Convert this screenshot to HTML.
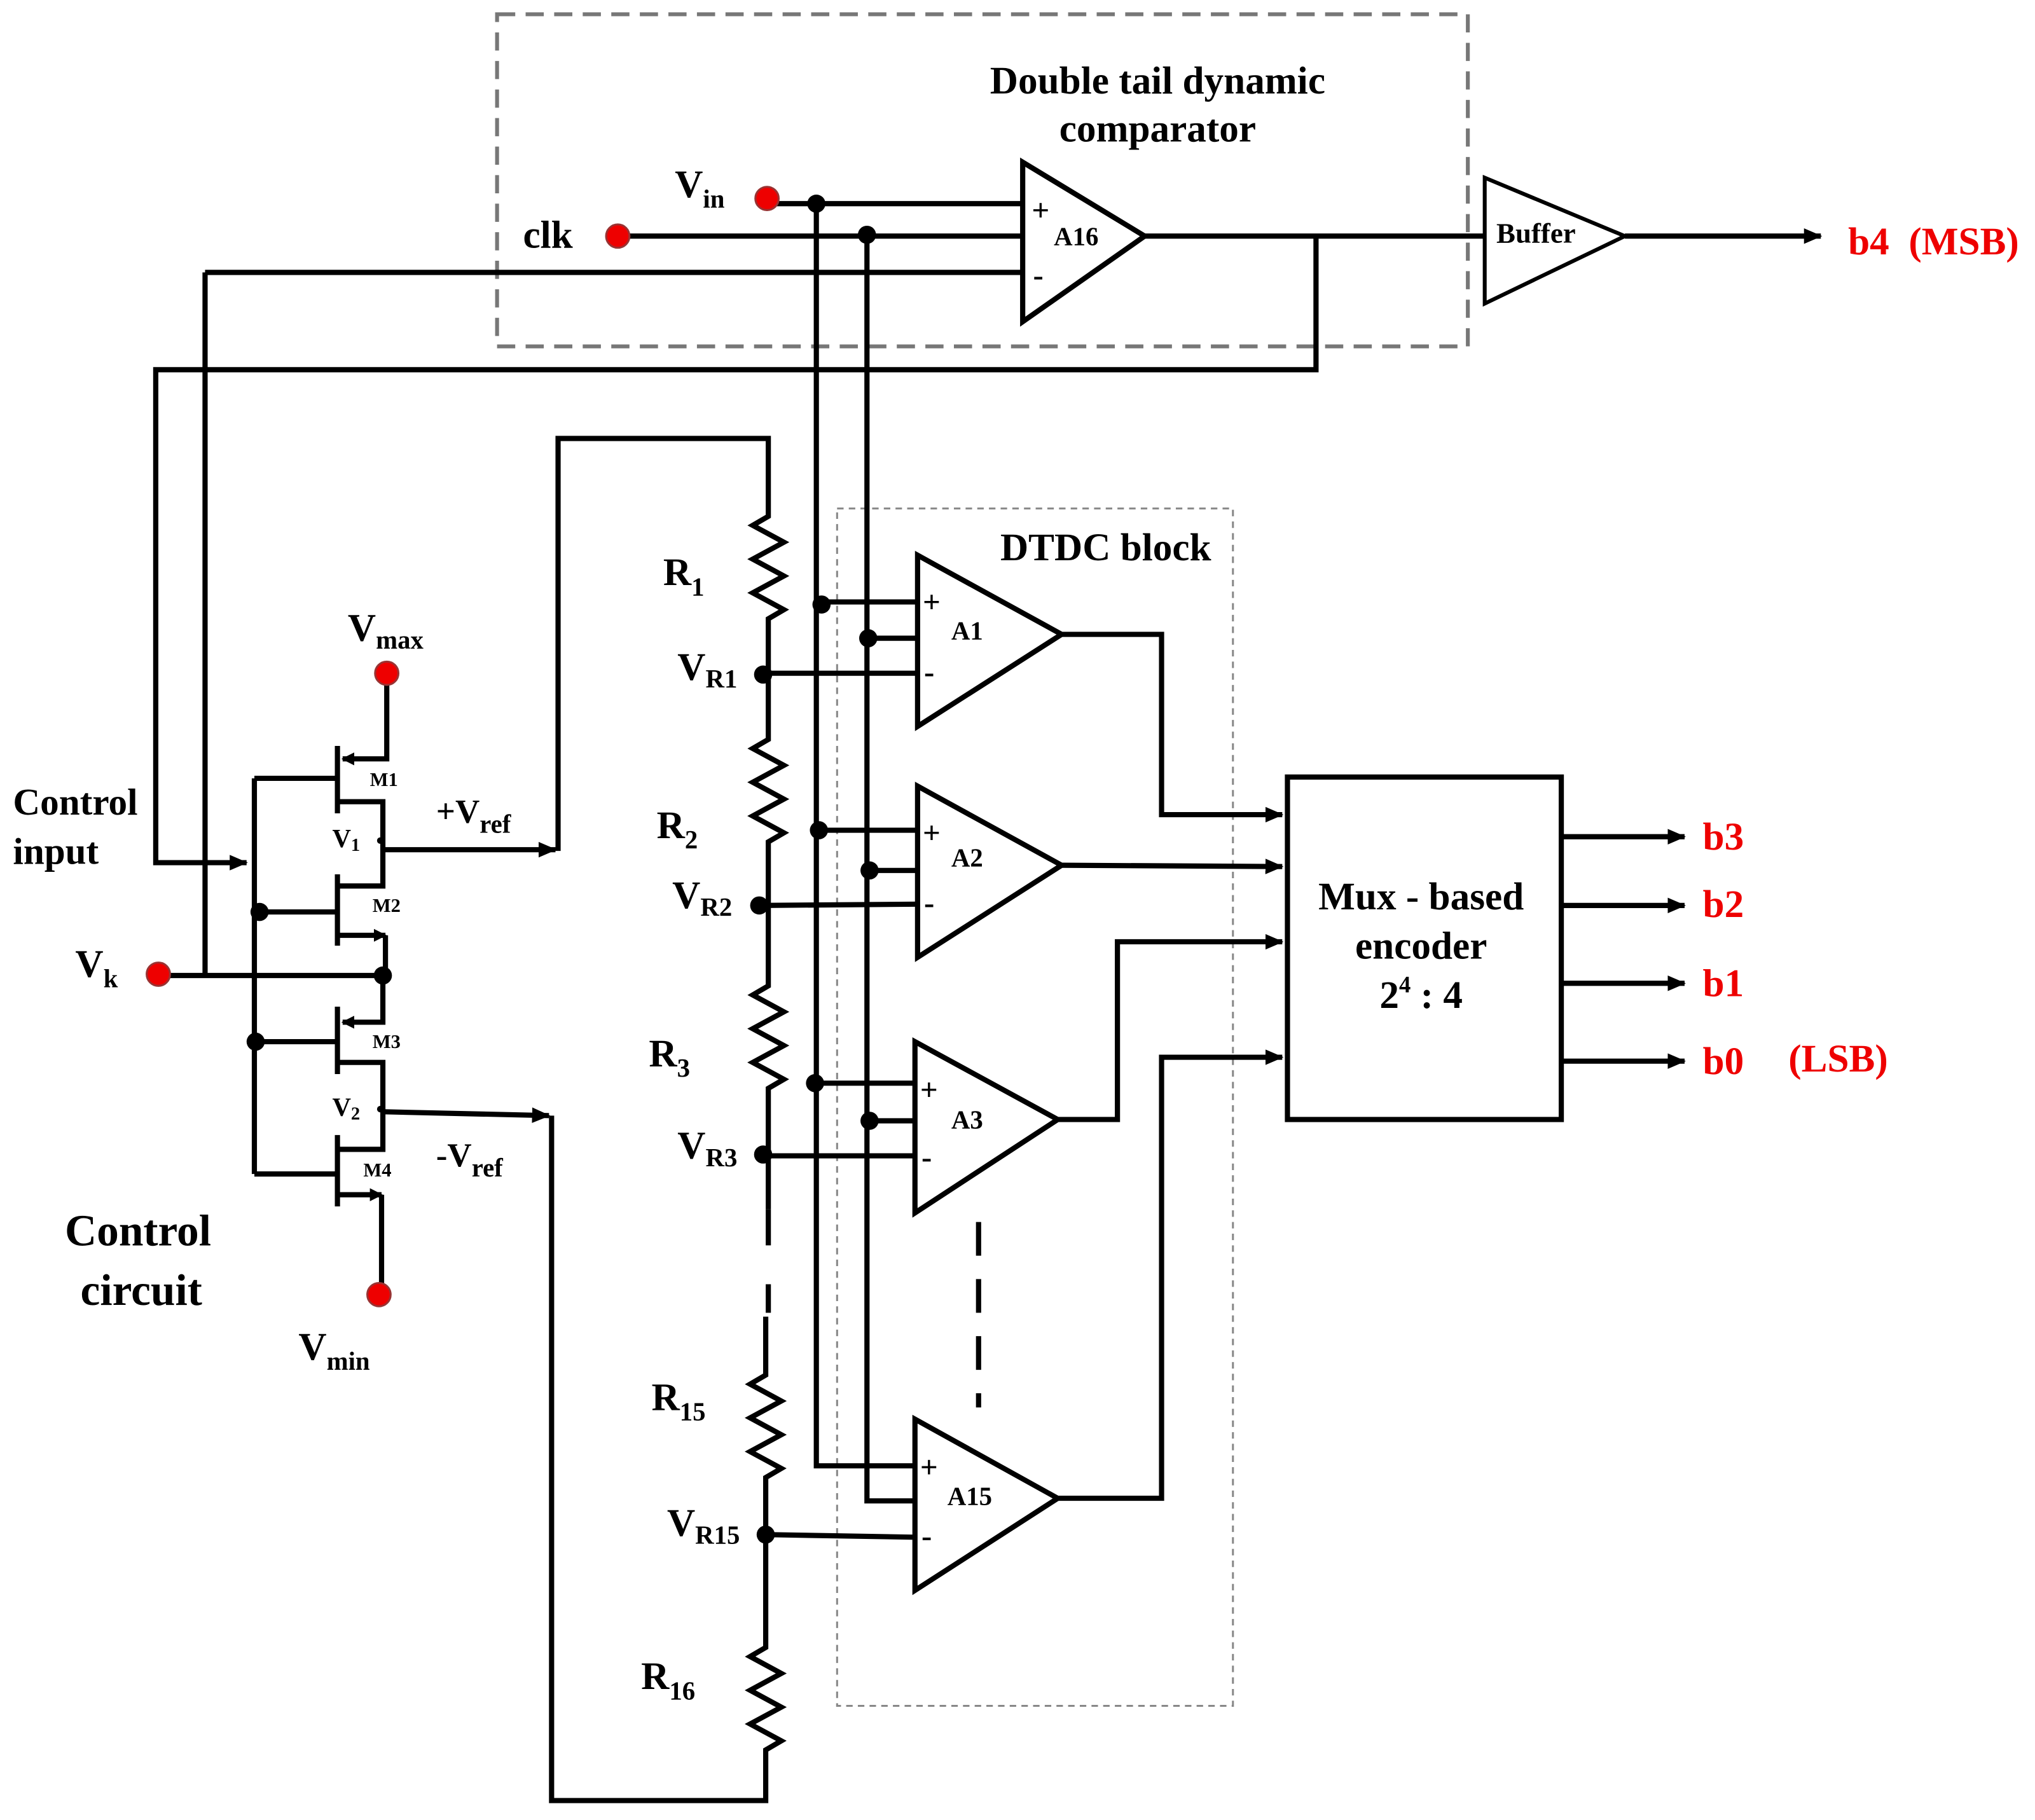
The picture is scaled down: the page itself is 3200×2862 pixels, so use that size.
<!DOCTYPE html>
<html><head><meta charset="utf-8"><style>
html,body{margin:0;padding:0;background:#fff}
svg{display:block}
text{font-family:"Liberation Serif",serif;font-weight:bold;fill:#000}
.r{fill:#e00}
</style></head><body>
<svg width="3200" height="2862" viewBox="0 0 1568 1403" preserveAspectRatio="none" xmlns="http://www.w3.org/2000/svg">
<defs>
<marker id="ar" markerWidth="10" markerHeight="10" refX="9" refY="5" orient="auto" markerUnits="userSpaceOnUse">
<path d="M0,0 L10,5 L0,10 Z" fill="#000"/></marker>
<marker id="ar2" markerWidth="14" markerHeight="12" refX="13" refY="6" orient="auto" markerUnits="userSpaceOnUse">
<path d="M0,0 L14,6 L0,12 Z" fill="#000"/></marker>
</defs>
<g fill="none" stroke="#000" stroke-width="4">
<rect x="383" y="11" width="748" height="256" stroke="#777" stroke-width="3" stroke-dasharray="14,8"/>
<rect x="645" y="392" width="305" height="923" stroke="#888" stroke-width="1.5" stroke-dasharray="5,4"/>
<path d="M591,157 H787"/>
<path d="M476,182 H787"/>
<path d="M158,210 H787"/>
<path d="M158,210 V752"/>
<path d="M788,125 V248 L882,182 Z"/>
<path d="M882,182 H1143"/>
<path d="M1014,182 V285 H120 V665 H190" marker-end="url(#ar2)"/>
<path d="M1144,137 V234 L1252,182 Z" stroke-width="3"/>
<path d="M1252,182 H1403" marker-end="url(#ar2)"/>
<path d="M629,157 V1130 H705"/>
<path d="M668,181 V1157 H705"/>
<path d="M294,655 H428" marker-end="url(#ar2)"/>
<path d="M430,656 V338 H592 V398 l-12,7 l24,13 l-24,13 l24,13 l-24,13 l24,13 l-12,7 V570 l-12,7 l24,13 l-24,13 l24,13 l-24,13 l24,13 l-12,7 V760 l-12,7 l24,13 l-24,13 l24,13 l-24,13 l24,13 l-12,7 V932"/>
<path d="M592,932 V1012" stroke-dasharray="28,30"/>
<path d="M590,1015 V1060 l-12,7 l24,13 l-24,13 l24,13 l-24,13 l24,13 l-12,7 V1270 l-12,7 l24,13 l-24,13 l24,13 l-24,13 l24,13 l-12,7 V1388 H425 V860"/>
<path d="M294,857 L423,860" marker-end="url(#ar2)"/>
<path d="M707,428 V560 L818,489 Z"/>
<path d="M633,464 H707 M669,492 H707 M588,519 H707"/>
<path d="M818,489 H895 V628 H988" marker-end="url(#ar2)"/>
<path d="M707,606 V738 L818,667 Z"/>
<path d="M631,640 H707 M670,671 H707 M585,698 L707,697"/>
<path d="M818,667 L988,668" marker-end="url(#ar2)"/>
<path d="M705,803 V935 L815,863 Z"/>
<path d="M628,835 H705 M670,864 H705 M588,891 H705"/>
<path d="M815,863 H861 V726 H988" marker-end="url(#ar2)"/>
<path d="M754,942 V1085" stroke-dasharray="26,18"/>
<path d="M705,1094 V1226 L815,1155 Z"/>
<path d="M590,1183 L705,1185"/>
<path d="M815,1155 H895 V815 H988" marker-end="url(#ar2)"/>
<rect x="992" y="599" width="211" height="264"/>
<path d="M1203,645 H1298" marker-end="url(#ar2)"/>
<path d="M1203,698 H1298" marker-end="url(#ar2)"/>
<path d="M1203,758 H1298" marker-end="url(#ar2)"/>
<path d="M1203,818 H1298" marker-end="url(#ar2)"/>
<path d="M298,519 V585 H264" marker-end="url(#ar)"/>
<path d="M260,575 V627 M196,600 H258 M260,618 H295 V683 H260"/>
<path d="M260,674 V729 M200,703 H258 M260,721 H297" marker-end="url(#ar)"/>
<path d="M297,721 V752 M122,752 H295"/>
<path d="M295,752 V788 H264" marker-end="url(#ar)"/>
<path d="M260,776 V828 M197,803 H258 M260,819 H295 V886 H260"/>
<path d="M260,875 V930 M196,905 H258 M260,921 H294" marker-end="url(#ar)"/>
<path d="M294,921 V998"/>
<path d="M196,600 V905"/>
</g>
<g fill="#000">
<circle cx="629" cy="157" r="7"/><circle cx="668" cy="181" r="7"/>
<circle cx="633" cy="466" r="7"/><circle cx="669" cy="492" r="7"/><circle cx="588" cy="520" r="7"/>
<circle cx="631" cy="640" r="7"/><circle cx="670" cy="671" r="7"/><circle cx="585" cy="698" r="7"/>
<circle cx="628" cy="835" r="7"/><circle cx="670" cy="864" r="7"/><circle cx="588" cy="890" r="7"/>
<circle cx="590" cy="1183" r="7"/>
<circle cx="200" cy="703" r="7"/><circle cx="197" cy="803" r="7"/><circle cx="295" cy="752" r="7"/>
<circle cx="293" cy="648" r="2.5"/><circle cx="293" cy="855" r="2.5"/>
</g>
<g fill="#e00" stroke="#933" stroke-width="1.5">
<circle cx="591" cy="153" r="9"/><circle cx="476" cy="182" r="9"/>
<circle cx="298" cy="519" r="9"/><circle cx="122" cy="751" r="9"/><circle cx="292" cy="998" r="9"/>
</g>
<g font-size="30">
<text x="892" y="72" text-anchor="middle">Double tail dynamic</text>
<text x="892" y="109" text-anchor="middle">comparator</text>
<text x="520" y="152">V<tspan font-size="20" dy="8">in</tspan></text>
<text x="403" y="191">clk</text>
<text x="852" y="432" text-anchor="middle">DTDC block</text>
<text x="1095" y="701" text-anchor="middle">Mux - based</text>
<text x="1095" y="739" text-anchor="middle">encoder</text>
<text x="1095" y="777" text-anchor="middle">2<tspan font-size="18" dy="-12">4</tspan><tspan dy="12"> : 4</tspan></text>
<text x="10" y="628" font-size="29">Control</text>
<text x="10" y="666" font-size="29">input</text>
<text x="50" y="960" font-size="34">Control</text>
<text x="62" y="1006" font-size="34">circuit</text>
<text x="268" y="494">V<tspan font-size="20" dy="6">max</tspan></text>
<text x="230" y="1048">V<tspan font-size="20" dy="8">min</tspan></text>
<text x="58" y="753">V<tspan font-size="20" dy="8">k</tspan></text>
<text x="336" y="634" font-size="26">+V<tspan font-size="20" dy="8">ref</tspan></text>
<text x="336" y="899" font-size="26">-V<tspan font-size="20" dy="8">ref</tspan></text>
<text x="511" y="451">R<tspan font-size="20" dy="8">1</tspan></text>
<text x="506" y="646">R<tspan font-size="20" dy="8">2</tspan></text>
<text x="500" y="822">R<tspan font-size="20" dy="8">3</tspan></text>
<text x="502" y="1087">R<tspan font-size="20" dy="8">15</tspan></text>
<text x="494" y="1302">R<tspan font-size="20" dy="8">16</tspan></text>
<text x="522" y="524">V<tspan font-size="20" dy="6">R1</tspan></text>
<text x="518" y="700">V<tspan font-size="20" dy="6">R2</tspan></text>
<text x="522" y="893">V<tspan font-size="20" dy="6">R3</tspan></text>
<text x="514" y="1184">V<tspan font-size="20" dy="6">R15</tspan></text>
<text class="r" x="1424" y="196">b4&#160;&#160;(MSB)</text>
<text class="r" x="1312" y="655">b3</text>
<text class="r" x="1312" y="707">b2</text>
<text class="r" x="1312" y="768">b1</text>
<text class="r" x="1312" y="828">b0</text>
<text class="r" x="1378" y="826">(LSB)</text>
</g>
<g font-size="20">
<text x="1153" y="187" font-size="22">Buffer</text>
<text x="795" y="170" font-size="24">+</text><text x="796" y="220" font-size="24">-</text>
<text x="812" y="189">A16</text>
<text x="711" y="472" font-size="24">+</text><text x="712" y="526" font-size="24">-</text><text x="733" y="493">A1</text>
<text x="711" y="650" font-size="24">+</text><text x="712" y="704" font-size="24">-</text><text x="733" y="668">A2</text>
<text x="709" y="848" font-size="24">+</text><text x="710" y="900" font-size="24">-</text><text x="733" y="870">A3</text>
<text x="709" y="1139" font-size="24">+</text><text x="710" y="1192" font-size="24">-</text><text x="730" y="1160">A15</text>
<text x="256" y="653">V<tspan font-size="14" dy="3">1</tspan></text>
<text x="256" y="860">V<tspan font-size="14" dy="3">2</tspan></text>
</g>
<g font-size="15">
<text x="285" y="606">M1</text><text x="287" y="703">M2</text>
<text x="287" y="808">M3</text><text x="280" y="907">M4</text>
</g>
</svg>
</body></html>
